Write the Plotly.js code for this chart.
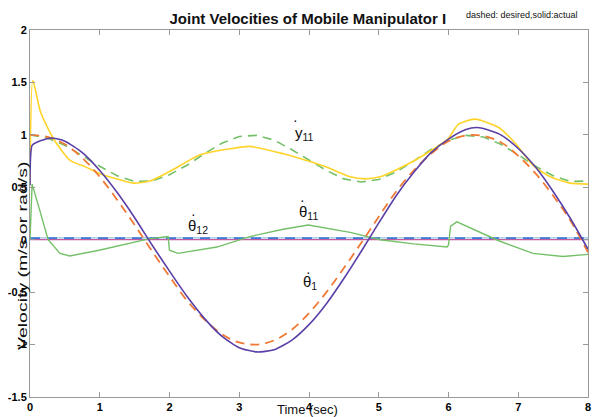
<!DOCTYPE html>
<html>
<head>
<meta charset="utf-8">
<script src="https://cdn.plot.ly/plotly-3.0.1.min.js"></script>
<style>html,body{margin:0;padding:0;background:#fff;}#chart{width:592px;height:417px;}</style>
</head>
<body>
<div id="chart"></div>
<script>
// ---- data ----
const tDesTheta1 = [0,0.25,0.5,0.75,1,1.25,1.5,1.75,2,2.25,2.5,2.75,3,3.25,3.5,3.75,4,4.25,4.5,4.75,5,5.25,5.5,5.75,6,6.25,6.5,6.75,7,7.25,7.5,7.75,8];
const desTheta1  = [1.0,0.98,0.91,0.78,0.60,0.38,0.14,-0.11,-0.35,-0.58,-0.76,-0.90,-0.98,-1.0,-0.96,-0.86,-0.70,-0.50,-0.27,-0.03,0.22,0.46,0.66,0.82,0.94,0.995,0.99,0.93,0.80,0.63,0.42,0.18,-0.12];

const tActTheta1 = [0,0.03,0.1,0.3,0.5,0.75,1,1.25,1.5,1.75,2,2.25,2.5,2.75,3,3.25,3.5,3.75,4,4.25,4.5,4.75,5,5.25,5.5,5.75,6,6.25,6.4,6.5,6.75,7,7.25,7.5,7.75,8];
const actTheta1  = [0.52,0.90,0.93,0.97,0.94,0.83,0.66,0.45,0.21,-0.05,-0.30,-0.54,-0.75,-0.92,-1.03,-1.07,-1.05,-0.96,-0.81,-0.61,-0.37,-0.11,0.16,0.42,0.64,0.83,0.96,1.05,1.07,1.06,1.0,0.87,0.69,0.46,0.20,-0.09];

const tDesY11 = [0,0.25,0.5,0.75,1,1.25,1.5,1.75,2,2.25,2.5,2.75,3,3.25,3.5,3.75,4,4.25,4.5,4.75,5,5.25,5.5,5.75,6,6.25,6.5,6.75,7,7.25,7.5,7.75,8];
const desY11  = [1.0,0.97,0.90,0.80,0.70,0.61,0.555,0.56,0.62,0.71,0.82,0.92,0.985,0.995,0.95,0.86,0.76,0.66,0.58,0.55,0.575,0.645,0.75,0.86,0.95,0.995,0.98,0.91,0.81,0.70,0.61,0.555,0.56];

const tActY11 = [0,0.04,0.15,0.33,0.57,0.81,1.0,1.25,1.48,1.72,2.0,2.44,2.8,3.15,3.63,3.99,4.26,4.59,4.8,5.02,5.5,5.99,6.14,6.38,6.72,6.97,7.21,7.46,7.74,8];
const actY11  = [0.52,1.52,1.22,0.97,0.76,0.69,0.63,0.58,0.54,0.56,0.65,0.81,0.86,0.89,0.82,0.75,0.69,0.60,0.58,0.60,0.75,0.96,1.10,1.15,1.07,0.91,0.71,0.60,0.54,0.53];

const tActTheta11 = [0,0.03,0.14,0.26,0.43,0.57,0.99,1.48,1.72,1.98,2.0,2.12,2.68,3.15,3.63,3.99,4.59,5.02,5.5,5.98,6.0,6.03,6.12,6.72,7.21,7.64,8];
const actTheta11  = [0.0,0.53,0.28,0.0,-0.13,-0.155,-0.10,-0.03,0.01,0.03,-0.10,-0.13,-0.07,0.03,0.10,0.14,0.07,0.0,-0.04,-0.07,-0.05,0.13,0.17,-0.01,-0.13,-0.16,-0.14];

const tFlat = [0,8];
const desTheta12 = [0.017,0.017];
const desTheta11 = [0.015,0.015];
const actTheta12 = [0,0];

const xTicks = [0,1,2,3,4,5,6,7,8];
const yTicks = [-1.5,-1,-0.5,0,0.5,1,1.5,2];

// ---- traces ----
const traces = [
  {x:tFlat, y:desTheta12, mode:'lines', line:{color:'#b3d0ea', width:1.8}},
  {x:tFlat, y:desTheta11, mode:'lines', line:{color:'#3d7bd4', width:1.8, dash:'10px,7px'}},
  {x:tFlat, y:actTheta12, mode:'lines', line:{color:'#c45aa0', width:1.2}},
  {x:tActTheta11, y:actTheta11, mode:'lines', line:{color:'#74c068', width:1.4}},
  {x:tDesY11, y:desY11, mode:'lines', line:{color:'#74c068', width:1.6, dash:'9px,6px'}},
  {x:tActY11, y:actY11, mode:'lines', line:{color:'#ffd42a', width:1.6, shape:'spline', smoothing:0.6}},
  {x:tDesTheta1, y:desTheta1, mode:'lines', line:{color:'#f07a35', width:1.8, dash:'9px,6px', shape:'spline'}},
  {x:tActTheta1, y:actTheta1, mode:'lines', line:{color:'#5a3fa6', width:1.6, shape:'spline', smoothing:0.6}}
];

const labFont = {family:'Arial, Liberation Sans, sans-serif', size:15, color:'#111'};
const dotFont = {family:'Arial, Liberation Sans, sans-serif', size:14, color:'#111'};
const annotations = [
  {x:3.94, y:1.01, text:'y<sub>11</sub>', showarrow:false, font:labFont},
  {x:3.81, y:1.14, text:'·', showarrow:false, font:dotFont},
  {x:2.41, y:0.13, text:'θ<sub>12</sub>', showarrow:false, font:labFont},
  {x:2.34, y:0.25, text:'·', showarrow:false, font:dotFont},
  {x:3.99, y:0.26, text:'θ<sub>11</sub>', showarrow:false, font:labFont},
  {x:3.91, y:0.38, text:'·', showarrow:false, font:dotFont},
  {x:4.01, y:-0.41, text:'θ<sub>1</sub>', showarrow:false, font:labFont},
  {x:3.99, y:-0.31, text:'·', showarrow:false, font:dotFont},
  {xref:'paper', yref:'paper', x:0.985, y:1.0, yshift:22, text:'dashed: desired,solid:actual', showarrow:false,
   xanchor:'right', font:{family:'Arial, Liberation Sans, sans-serif', size:9, color:'#111'}},
  {xref:'paper', yref:'paper', x:0.498, y:0, yshift:-12, yanchor:'middle', text:'Time (sec)', showarrow:false,
   font:{family:'Arial, Liberation Sans, sans-serif', size:13, color:'#111'}},
  {xref:'paper', yref:'paper', x:0, xshift:-17, y:0.384, yanchor:'middle', text:'Velocity (m/s or rad/s)', showarrow:false, textangle:-90,
   font:{family:'Arial, Liberation Sans, sans-serif', size:13, color:'#111'}}
];

const tickFont = {family:'Arial, Liberation Sans, sans-serif', size:11, color:'#000', weight:'bold'};
const layout = {
  width:592, height:417,
  margin:{l:30, r:4, t:30, b:20},
  paper_bgcolor:'#fff', plot_bgcolor:'#fff',
  showlegend:false,
  title:{text:'Joint Velocities of Mobile Manipulator I', x:0.52, xanchor:'center', y:0.955, yanchor:'middle',
         font:{family:'Arial, Liberation Sans, sans-serif', size:15, color:'#111', weight:'bold'}},
  xaxis:{range:[0,8], tickvals:xTicks, ticktext:xTicks.map(String), ticks:'inside', ticklen:5, tickcolor:'#999',
         showline:true, linecolor:'#999', linewidth:1, mirror:'ticks', showgrid:false, zeroline:false,
         tickfont:tickFont},
  yaxis:{range:[-1.5,2], tickvals:yTicks, ticktext:yTicks.map(String), ticks:'inside', ticklen:5, tickcolor:'#999',
         showline:true, linecolor:'#999', linewidth:1, mirror:'ticks', showgrid:false, zeroline:false,
         tickfont:tickFont},
  annotations:annotations
};

Plotly.newPlot('chart', traces, layout, {displayModeBar:false, staticPlot:true}).then(function(gd){
  // lengthen the y-axis title vertically (in screen space) to match the reference's tall label
  try {
    const groups = gd.querySelectorAll('g.annotation');
    const g = groups[groups.length - 1];
    const svgRect = gd.querySelector('svg.main-svg').getBoundingClientRect();
    const r = g.getBoundingClientRect();
    const cx = r.left - svgRect.left + r.width / 2, cy = r.top - svgRect.top + r.height / 2;
    const existing = g.getAttribute('transform') || '';
    g.setAttribute('transform', 'translate(' + cx + ',' + cy + ') scale(1,1.5) translate(' + (-cx) + ',' + (-cy) + ') ' + existing);
  } catch (e) {}
});
</script>
</body>
</html>
